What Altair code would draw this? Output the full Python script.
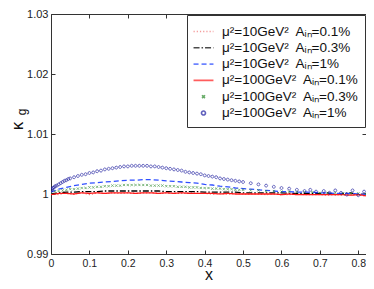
import altair as alt
import pandas as pd

FONT = "Liberation Sans"
SP = "\u2002"
names = [
    "μ²=10GeV²" + SP + "Aᵢₙ=0.1%",
    "μ²=10GeV²" + SP + "Aᵢₙ=0.3%",
    "μ²=10GeV²" + SP + "Aᵢₙ=1%",
    "μ²=100GeV²" + SP + "Aᵢₙ=0.1%",
    "μ²=100GeV²" + SP + "Aᵢₙ=0.3%",
    "μ²=100GeV²" + SP + "Aᵢₙ=1%",
]
colors = ["#f07070", "#000000", "#2f4fff", "#ff1a1a", "#2a8a2a", "#1c1ca0"]
dashes = [[1.2, 2], [6, 2, 1.5, 2], [5, 3], [1, 0], [1, 0], [1, 0]]
line_path = "M-1.15,0H1.15"
x_path = "M-0.17,-0.17L0.17,0.17M0.17,-0.17L-0.17,0.17"
o_path = "M0.23,0A0.23,0.23 0 1,1 -0.23,0A0.23,0.23 0 1,1 0.23,0Z"
shapes = [line_path, line_path, line_path, line_path, x_path, o_path]

x_ticks = [0, 0.1, 0.2, 0.3, 0.4, 0.5, 0.6, 0.7, 0.8]
y_ticks = [0.99, 1, 1.01, 1.02, 1.03]

line_x = [0.00, 0.02, 0.04, 0.06, 0.08, 0.10, 0.12, 0.14, 0.16, 0.18, 0.20,
          0.22, 0.24, 0.26, 0.28, 0.30, 0.32, 0.34, 0.36, 0.38, 0.40, 0.42,
          0.44, 0.46, 0.48, 0.50, 0.52, 0.54, 0.56, 0.58, 0.60, 0.62, 0.64,
          0.66, 0.68, 0.70, 0.72, 0.74, 0.76, 0.78, 0.80, 0.82]
red_dot = [1.0001, 0.9999, 1.0002, 1.0000, 1.0002, 0.9999, 1.0002, 1.0001, 1.0002, 1.0001,
           1.0002, 1.0001, 1.0002, 1.0002, 1.0001, 1.0002, 1.0001, 1.0001, 1.0002, 1.0001,
           1.0001, 1.0000, 1.0001, 1.0000, 1.0001, 1.0000, 1.0000, 1.0000, 0.9999, 1.0000,
           0.9999, 0.9999, 1.0000, 0.9999, 0.9999, 0.9999, 0.9998, 0.9999, 0.9998, 0.9999,
           0.9998, 0.9997]
black_dd = [1.0000, 1.0002, 1.0003, 1.0003, 1.0004, 1.0004, 1.0004, 1.0005, 1.0005, 1.0005,
            1.0005, 1.0005, 1.0005, 1.0005, 1.0005, 1.0004, 1.0004, 1.0004, 1.0004, 1.0004,
            1.0003, 1.0003, 1.0003, 1.0003, 1.0003, 1.0002, 1.0002, 1.0002, 1.0002, 1.0002,
            1.0002, 1.0001, 1.0001, 1.0001, 1.0001, 1.0001, 1.0002, 0.9999, 1.0001, 1.0002,
            0.9999, 1.0000]
blue_dash = [1.0003, 1.0008, 1.0011, 1.0014, 1.0016, 1.0018, 1.0019, 1.0020, 1.0021, 1.0022,
             1.0023, 1.0023, 1.0024, 1.0024, 1.0023, 1.0022, 1.0021, 1.0020, 1.0019, 1.0018,
             1.0016, 1.0015, 1.0013, 1.0012, 1.0010, 1.0009, 1.0008, 1.0007, 1.0006, 1.0005,
             1.0004, 1.0004, 1.0003, 1.0003, 1.0003, 1.0002, 1.0002, 1.0001, 1.0001, 1.0001,
             1.0000, 0.9999]
red_solid = [0.9999, 1.0001, 1.0001, 1.0000, 1.0002, 1.0001, 1.0002, 1.0001, 1.0002, 1.0002,
             1.0002, 1.0001, 1.0002, 1.0002, 1.0001, 1.0002, 1.0001, 1.0002, 1.0001, 1.0001,
             1.0001, 1.0001, 1.0000, 1.0001, 1.0000, 1.0000, 1.0000, 1.0000, 1.0000, 1.0000,
             0.9999, 1.0000, 0.9999, 0.9999, 0.9999, 0.9999, 0.9999, 0.9999, 0.9999, 0.9998,
             0.9999, 0.9997]

green_x = [0.00, 0.01, 0.02, 0.03, 0.04, 0.05, 0.06, 0.07, 0.08, 0.09, 0.10,
           0.11, 0.12, 0.13, 0.14, 0.15, 0.16, 0.17, 0.18, 0.19, 0.20,
           0.21, 0.22, 0.23, 0.24, 0.25, 0.26, 0.27, 0.28, 0.29, 0.30,
           0.31, 0.32, 0.33, 0.34, 0.35, 0.36, 0.37, 0.38, 0.39, 0.40,
           0.41, 0.42, 0.43, 0.44, 0.45, 0.46, 0.47, 0.48, 0.49, 0.50,
           0.52, 0.54, 0.56, 0.58, 0.60, 0.62, 0.64, 0.66, 0.68, 0.70,
           0.72, 0.74, 0.76, 0.78, 0.80, 0.82]
green_y = [1.0002, 1.0004, 1.0005, 1.0006, 1.0007, 1.0008, 1.0008, 1.0009, 1.0010, 1.0010, 1.0011,
           1.0011, 1.0012, 1.0012, 1.0013, 1.0013, 1.0014, 1.0014, 1.0014, 1.0015, 1.0015,
           1.0015, 1.0015, 1.0015, 1.0015, 1.0015, 1.0014, 1.0014, 1.0014, 1.0014, 1.0013,
           1.0013, 1.0013, 1.0012, 1.0012, 1.0012, 1.0011, 1.0011, 1.0011, 1.0010, 1.0010,
           1.0010, 1.0009, 1.0009, 1.0009, 1.0008, 1.0008, 1.0008, 1.0007, 1.0007, 1.0007,
           1.0006, 1.0006, 1.0005, 1.0005, 1.0004, 1.0004, 1.0003, 1.0003, 1.0003, 1.0002,
           1.0002, 1.0002, 1.0001, 1.0001, 1.0001, 1.0000]

circ_x = [0.001, 0.003, 0.005, 0.008, 0.011, 0.015, 0.02, 0.025, 0.03, 0.035, 0.04, 0.045, 0.05,
          0.06, 0.07, 0.08, 0.09, 0.10, 0.11, 0.12, 0.13, 0.14, 0.15, 0.16, 0.17, 0.18, 0.19,
          0.20, 0.21, 0.22, 0.23, 0.24, 0.25, 0.26, 0.27, 0.28, 0.29, 0.30, 0.31, 0.32, 0.33,
          0.34, 0.35, 0.36, 0.37, 0.38, 0.39, 0.40, 0.41, 0.42, 0.43, 0.44, 0.45, 0.46, 0.47,
          0.48, 0.49, 0.50, 0.52, 0.54, 0.56, 0.58, 0.60, 0.62, 0.64, 0.66, 0.675, 0.69, 0.71,
          0.725, 0.74, 0.755, 0.77, 0.785, 0.80, 0.815]
circ_y = [1.0006, 1.0008, 1.0010, 1.0011, 1.0013, 1.0014, 1.0016, 1.0018, 1.0020, 1.0022, 1.0023, 1.0025, 1.0026,
          1.0028, 1.0030, 1.0032, 1.0033, 1.0035, 1.0036, 1.0038, 1.0039, 1.0041, 1.0042, 1.0043, 1.0044, 1.0045, 1.0046,
          1.0046, 1.0047, 1.0047, 1.0047, 1.0047, 1.0047, 1.0046, 1.0046, 1.0045, 1.0044, 1.0043, 1.0042, 1.0041, 1.0040,
          1.0039, 1.0037, 1.0036, 1.0035, 1.0034, 1.0033, 1.0031, 1.0030, 1.0029, 1.0028, 1.0026, 1.0025, 1.0024, 1.0023,
          1.0022, 1.0021, 1.0020, 1.0018, 1.0016, 1.0014, 1.0012, 1.0010, 1.0009, 1.0007, 1.0005, 1.0007, 1.0004, 1.0005,
          1.0002, 1.0006, 1.0002, 0.9999, 1.0006, 0.9998, 1.0004]

rows = []
for nm, ys in zip(names[:4], [red_dot, black_dd, blue_dash, red_solid]):
    for xv, yv in zip(line_x, ys):
        rows.append({"series": nm, "x": xv, "y": yv})
df_lines = pd.DataFrame(rows)
rows = []
for xv, yv in zip(green_x, green_y):
    rows.append({"series": names[4], "x": xv, "y": yv})
for xv, yv in zip(circ_x, circ_y):
    rows.append({"series": names[5], "x": xv, "y": yv})
df_pts = pd.DataFrame(rows)

xscale = alt.Scale(domain=[0, 0.82], nice=False, zero=False)
yscale = alt.Scale(domain=[0.99, 1.03], nice=False, zero=False)

legend = alt.Legend(
    title=None, orient="top-right", offset=1, strokeColor="#333", fillColor="white",
    padding=7, symbolSize=300, symbolStrokeWidth=1.6, labelFontSize=13.5, labelFont=FONT,
    labelColor="#111", labelOffset=9, rowPadding=0.3, labelLimit=300,
)
color = alt.Color("series:N", scale=alt.Scale(domain=names, range=colors), legend=legend)
dash = alt.StrokeDash("series:N", scale=alt.Scale(domain=names, range=dashes), legend=legend)
shape = alt.Shape("series:N", scale=alt.Scale(domain=names, range=shapes), legend=legend)

common = dict(tickSize=4, offset=-4, domain=False, grid=False, tickColor="#333",
              labelColor="#222", labelFont=FONT, titleFont=FONT, titleFontWeight="normal",
              titleColor="#111", labelFlush=False)

x_bottom = alt.Axis(orient="bottom", values=x_ticks, format="~g", labelPadding=4, labelFontSize=10.5,
                    title="x", titleFontSize=16, titleBaseline="alphabetic", titleY=29, **common)
x_top = alt.Axis(orient="top", values=x_ticks, labels=False, title=None, **common)
y_left = alt.Axis(orient="left", values=y_ticks, format="~g", labelPadding=3, labelFontSize=11,
                  title=None, **common)
y_right = alt.Axis(orient="right", values=y_ticks, labels=False, title=None, **common)

lines = alt.Chart(df_lines).mark_line(strokeWidth=1.3, clip=True).encode(
    x=alt.X("x:Q", scale=xscale, axis=x_bottom),
    y=alt.Y("y:Q", scale=yscale, axis=y_left),
    color=color,
    strokeDash=dash,
)
points = alt.Chart(df_pts).mark_point(filled=False, size=160, strokeWidth=1, clip=True).encode(
    x=alt.X("x:Q", scale=xscale, axis=x_top),
    y=alt.Y("y:Q", scale=yscale, axis=y_right),
    color=color,
    shape=shape,
    strokeDash=dash,
)
kappa = alt.Chart(pd.DataFrame({"t": ["κ"]})).mark_text(
    font=FONT, fontSize=17, angle=270, align="center", baseline="middle", color="#111"
).encode(x=alt.value(-33), y=alt.value(112), text="t:N")
gsub = alt.Chart(pd.DataFrame({"t": ["g"]})).mark_text(
    font=FONT, fontSize=12, angle=270, align="center", baseline="middle", color="#111"
).encode(x=alt.value(-29), y=alt.value(98), text="t:N")

chart = alt.layer(lines, points, kappa, gsub).resolve_axis(
    x="independent", y="independent"
).properties(
    width=315, height=240, autosize="none",
    padding={"left": 43, "top": 6, "right": 0, "bottom": 27},
).configure_view(stroke="#333", strokeWidth=1)

chart.save("out.html", embed_options={"renderer": "svg", "actions": False})
